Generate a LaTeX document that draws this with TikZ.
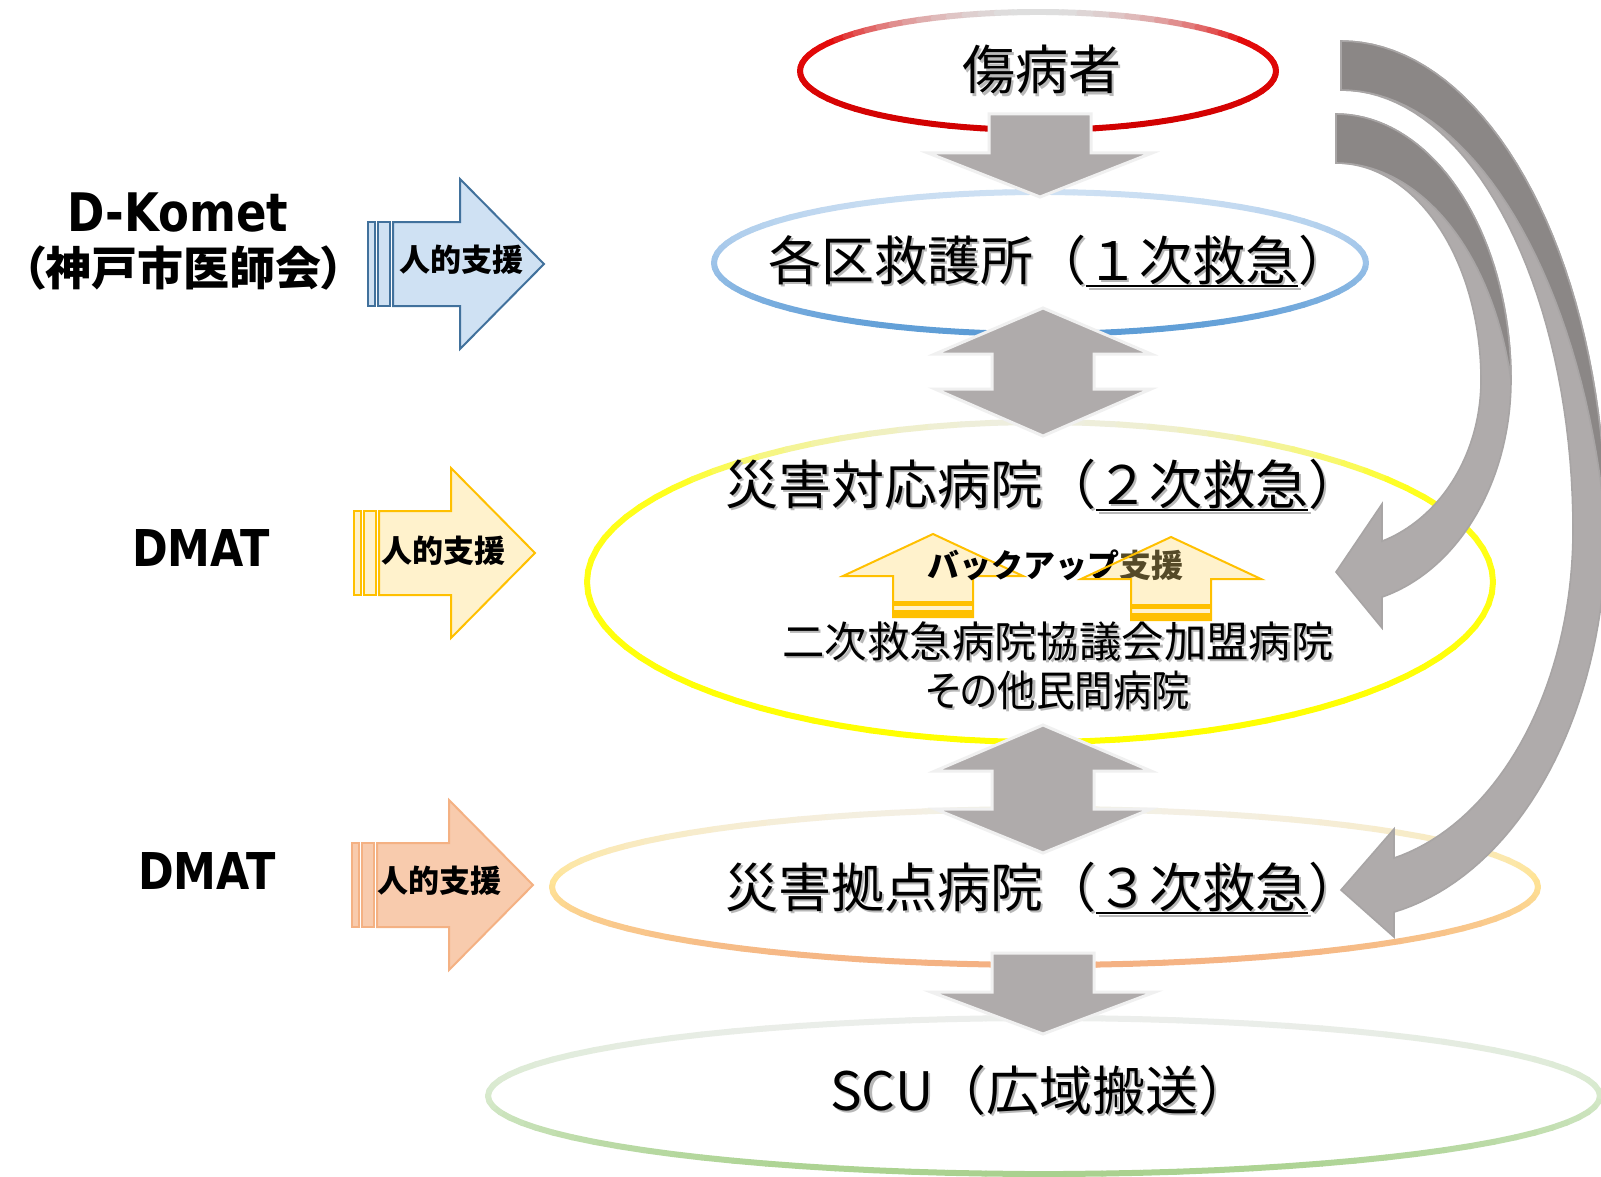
\documentclass[tikz,border=0pt]{standalone}
\usepackage{fontspec}
\usepackage{graphicx}
\newfontfamily\jp{Noto Sans CJK JP}
\newfontfamily\jpp{Noto Sans CJK JP}[RawFeature=+palt]
\newfontfamily\dvs{DejaVu Sans}
\definecolor{arrlight}{RGB}{175,171,171}
\definecolor{arrdark}{RGB}{139,135,134}
\definecolor{arredge}{RGB}{168,165,165}
\definecolor{bluefill}{RGB}{207,225,243}
\definecolor{bluedraw}{RGB}{65,113,156}
\definecolor{yelfill}{RGB}{255,242,204}
\definecolor{yeldraw}{RGB}{255,192,0}
\definecolor{orgfill}{RGB}{248,203,173}
\definecolor{orgdraw}{RGB}{244,177,131}
\definecolor{olivetxt}{RGB}{85,74,40}
\definecolor{rTop}{RGB}{222,222,222}
\definecolor{rMid}{RGB}{228,10,10}
\definecolor{rBot}{RGB}{208,0,0}
\definecolor{bTop}{RGB}{205,224,243}
\definecolor{bMid}{RGB}{155,194,232}
\definecolor{bBot}{RGB}{91,155,213}
\definecolor{yTop}{RGB}{238,238,222}
\definecolor{yMid}{RGB}{255,255,30}
\definecolor{yBot}{RGB}{255,255,0}
\definecolor{oTop}{RGB}{243,240,230}
\definecolor{oMid}{RGB}{255,228,150}
\definecolor{oBot}{RGB}{244,177,131}
\definecolor{gTop}{RGB}{236,238,236}
\definecolor{gMid}{RGB}{214,233,203}
\definecolor{gBot}{RGB}{169,209,142}

\newcommand\myul[1]{\setbox0=\hbox{#1}\rlap{\smash{\rule[-3.5pt]{\wd0}{1pt}}}\box0}
% gradient-stroked ellipse: cx cy a b top mid bottom split width
\newcommand\gradell[9]{%
  \foreach \ang in {0,4,...,356}{%
    \pgfmathsetmacro\ffrac{(sin(\ang+2)+1)/2}%
    \pgfmathtruncatemacro\mixA{100*min(1,\ffrac/#8)}%
    \pgfmathtruncatemacro\mixB{100*max(0,(\ffrac-#8)/(1-#8))}%
    \ifdim\ffrac pt<#8pt\colorlet{segc}{#6!\mixA!#5}\else\colorlet{segc}{#7!\mixB!#6}\fi
    \draw[line width=#9, segc, line cap=round] ({#1+#3*cos(\ang)},{#2+#4*sin(\ang)}) -- ({#1+#3*cos(\ang+4)},{#2+#4*sin(\ang+4)});
  }}
\newcommand\gdown[4]{\filldraw[garr] ({#1-51},#2) -- ({#1+51},#2) -- ({#1+51},#3) -- ({#1+112},#3) -- (#1,#4) -- ({#1-112},#3) -- ({#1-51},#3) -- cycle;}
\newcommand\gdouble[5]{\filldraw[garr] (#1,#2) -- ({#1+108},#3) -- ({#1+51},#3) -- ({#1+51},#4) -- ({#1+108},#4) -- (#1,#5) -- ({#1-108},#4) -- ({#1-51},#4) -- ({#1-51},#3) -- ({#1-108},#3) -- cycle;}
\newcommand\sidearr[6]{%
  \filldraw[fill=#5, draw=#6, line width=1] (#1,{#2-42}) rectangle ({#1+7},{#2+42});
  \filldraw[fill=#5, draw=#6, line width=1] ({#1+10},{#2-42}) rectangle ({#1+22},{#2+42});
  \filldraw[fill=#5, draw=#6, line width=1] ({#1+25},{#2-42}) -- (#3,{#2-42}) -- (#3,{#2-85}) -- (#4,#2) -- (#3,{#2+85}) -- (#3,{#2+42}) -- ({#1+25},{#2+42}) -- cycle;}
\newcommand\uparr[5]{\path[#5] (#1,#2) -- ({#1+90},#3) -- ({#1+40},#3) -- ({#1+40},#4) -- ({#1-40},#4) -- ({#1-40},#3) -- ({#1-90},#3) -- cycle;}
\newcommand\upstripes[2]{\fill[yeldraw] ({#1-40},{#2-16}) rectangle ({#1+40},{#2-11}); \fill[yeldraw] ({#1-40},{#2-7}) rectangle ({#1+40},#2);}
\newcommand\stext[5]{\node[#2, text=black!28] (#1s) at ({#3+2.5},{#4+2.5}) {#5}; \node[#2] (#1) at (#3,#4) {#5};}

\begin{document}
\begin{tikzpicture}[x=0.5pt,y=-0.5pt,
  garr/.style={fill=arrlight, draw=black!6, line width=1.5},
  mainlbl/.style={font=\jp\fontsize{26.5}{30}\selectfont, inner sep=0pt, anchor=west},
  sublbl/.style={font=\jp\fontsize{21.2}{25}\selectfont, inner sep=0pt},
  leftb/.style={font=\dvs\bfseries\fontsize{22.5}{26}\selectfont, inner sep=0pt},
  leftbs/.style={font=\dvs\bfseries\fontsize{21.5}{26}\selectfont, inner sep=0pt},
  leftjp/.style={font=\jpp\bfseries\fontsize{23}{27}\selectfont, inner sep=0pt},
  arrlbl/.style={font=\jp\bfseries\fontsize{15.5}{18}\selectfont, inner sep=0pt},
  bklbl/.style={font=\jp\bfseries\fontsize{16}{19}\selectfont, inner sep=0pt}]
\useasboundingbox (0,0) rectangle (1601,1177);
\fill[white] (0,0) rectangle (1601,1177);
\clip (0,0) rectangle (1601,1177);

% ellipses
\gradell{1038}{71}{238}{59}{rTop}{rMid}{rBot}{0.25}{3}
\gradell{1040}{263}{326}{71}{bTop}{bMid}{bBot}{0.5}{3}
\gradell{1040}{582}{453}{160}{yTop}{yMid}{yBot}{0.2}{3}
\gradell{1045}{887}{493}{78}{oTop}{oMid}{oBot}{0.45}{3}
\gradell{1044}{1096}{556}{78}{gTop}{gMid}{gBot}{0.5}{3}

% vertical gray arrows
\gdown{1040}{114}{153}{197}
\gdouble{1043}{308}{354}{389}{436}
\gdouble{1043}{725}{771}{809}{853}
\gdown{1043}{953}{992}{1034}

% outer curved arrow
\filldraw[fill=arrlight, draw=arredge, line width=0.8]
  plot[domain=-90:0, samples=40] ({1341+265*cos(\x)},{530+489*sin(\x)})
  -- plot[domain=0:78.46, samples=40] ({1341+265*cos(\x)},{530+390*sin(\x)})
  -- (1394,937) -- (1341,890) -- (1394,829)
  -- plot[domain=76.8:0, samples=40] ({1341+232*cos(\x)},{530+337*sin(\x)})
  -- plot[domain=0:-90, samples=40] ({1341+232*cos(\x)},{530+440*sin(\x)}) -- cycle;
\filldraw[fill=arrdark, draw=arredge, line width=0.8]
  plot[domain=-90:0, samples=40] ({1341+265*cos(\x)},{530+489*sin(\x)})
  -- plot[domain=0:-90, samples=40] ({1341+(232+33*((\x+90)/90)^2)*cos(\x)},{530+(440+49*((\x+90)/90)^2)*sin(\x)}) -- cycle;

% inner curved arrow
\filldraw[fill=arrlight, draw=arredge, line width=0.8]
  plot[domain=-90:0, samples=40] ({1336+175*cos(\x)},{380+266*sin(\x)})
  -- plot[domain=0:74.76, samples=40] ({1336+175*cos(\x)},{380+225*sin(\x)})
  -- (1382,628) -- (1336,572) -- (1382,504)
  -- plot[domain=71.5:0, samples=40] ({1336+145*cos(\x)},{380+170*sin(\x)})
  -- plot[domain=0:-90, samples=40] ({1336+145*cos(\x)},{380+217*sin(\x)}) -- cycle;
\filldraw[fill=arrdark, draw=arredge, line width=0.8]
  plot[domain=-90:0, samples=40] ({1336+175*cos(\x)},{380+266*sin(\x)})
  -- plot[domain=0:-90, samples=40] ({1336+(145+30*((\x+90)/90)^2)*cos(\x)},{380+(217+49*((\x+90)/90)^2)*sin(\x)}) -- cycle;

% side support arrows
\sidearr{368}{264}{460}{544}{bluefill}{bluedraw}
\sidearr{354}{553}{451}{535}{yelfill}{yeldraw}
\sidearr{352}{885}{449}{533}{orgfill}{orgdraw}

% backup up-arrows
\uparr{933}{534}{576}{617}{fill=yelfill, draw=yeldraw, line width=1}
\upstripes{933}{617}
\uparr{1171}{537}{579}{620}{fill=yelfill}

% texts
\stext{injured}{mainlbl}{962}{70}{傷病者}
\stext{first}{mainlbl}{768}{260}{各区救護所（\myul{１次救急}）}
\stext{second}{mainlbl}{725}{484}{災害対応病院（\myul{２次救急}）}
\stext{third}{mainlbl}{725}{887}{災害拠点病院（\myul{３次救急}）}
\stext{scu}{mainlbl}{830}{1090}{SCU（広域搬送）}
\stext{sub1}{sublbl}{1058}{641}{二次救急病院協議会加盟病院}
\stext{sub2}{sublbl}{1058}{690}{\scalebox{0.91}[1]{\jpp その他民間病院}}

\node[leftb] (dkomet) at (178,213) {\scalebox{1}[1.18]{D-Komet}};
\node[leftjp] (kobe) at (183,268) {（神戸市医師会）};
\node[leftbs] (dmat1) at (201,548) {\scalebox{1}[1.18]{DMAT}};
\node[leftbs] (dmat2) at (207,871) {\scalebox{1}[1.18]{DMAT}};

\node[arrlbl] (sup1) at (461,260) {人的支援};
\node[arrlbl] (sup2) at (443,551) {人的支援};
\node[arrlbl] (sup3) at (439,881) {人的支援};

\node[bklbl] (backup) at (1055,565) {バックアップ\textcolor{olivetxt}{支援}};
\uparr{1171}{537}{579}{620}{draw=yeldraw, line width=1}
\upstripes{1171}{620}
\end{tikzpicture}
\end{document}
